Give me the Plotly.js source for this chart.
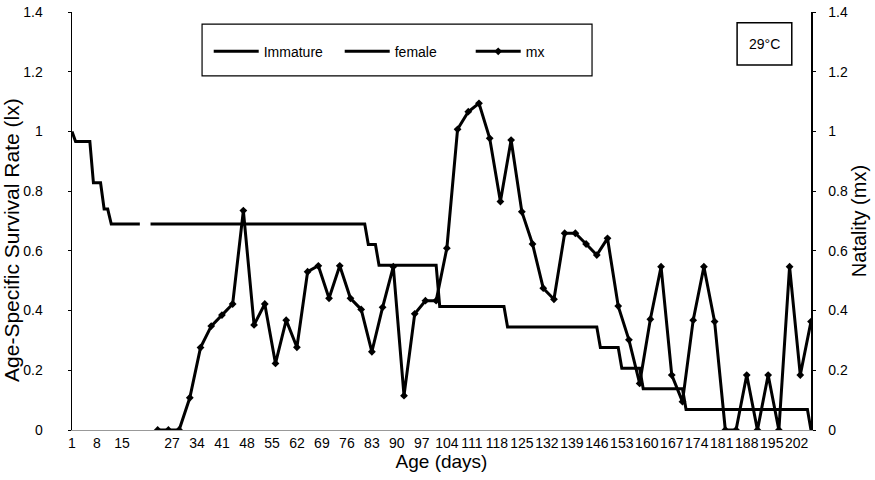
<!DOCTYPE html>
<html><head><meta charset="utf-8">
<script src="https://cdn.plot.ly/plotly-3.0.1.min.js"></script>
<style>html,body{margin:0;padding:0;background:#fff}#chart{width:875px;height:480px}</style>
</head><body><div id="chart"></div>
<script>
// Survival (lx) read at the days where the step changes
const immatureDays = [1, 2, 6, 7, 9, 10, 11, 12, 20];
const immatureLx   = [1.0, 0.966, 0.966, 0.828, 0.828, 0.74, 0.74, 0.69, 0.69];
const femaleDays = [21, 81, 82, 84, 85, 101, 102, 120, 121, 146, 147, 152, 153, 158, 159, 170, 171, 205, 206];
const femaleLx   = [0.69, 0.69, 0.621, 0.621, 0.552, 0.552, 0.414, 0.414, 0.345, 0.345, 0.276, 0.276, 0.207, 0.207, 0.138, 0.138, 0.069, 0.069, 0];
// Natality (mx)
const mxDays = [23, 26, 29, 32, 35, 38, 41, 44, 47, 50, 53, 56, 59, 62, 65, 68, 71, 74, 77, 80,
  83, 86, 89, 92, 95, 98, 101, 104, 107, 110, 113, 116, 119, 122, 125, 128, 131, 134, 137, 140,
  143, 146, 149, 152, 155, 158, 161, 164, 167, 170, 173, 176, 179, 182, 185, 188, 191, 194, 197, 200, 203, 206];
const mxValues = [0, 0, 0, 0.108, 0.276, 0.348, 0.385, 0.422, 0.735, 0.352,
  0.422, 0.223, 0.368, 0.277, 0.53, 0.55, 0.441, 0.55, 0.441, 0.404,
  0.262, 0.411, 0.547, 0.115, 0.389, 0.433, 0.433, 0.609, 1.007, 1.066,
  1.094, 0.977, 0.765, 0.971, 0.731, 0.623, 0.475, 0.438, 0.659, 0.659,
  0.623, 0.586, 0.642, 0.415, 0.302, 0.156, 0.371, 0.547, 0.184, 0.095,
  0.368, 0.547, 0.363, 0, 0, 0.184, 0, 0.184, 0, 0.547, 0.184, 0.363];

// Category axis: days 1-20, two blank rows, then days 21-206
const categories = [];
for (let d = 1; d <= 20; d++) categories.push(String(d));
categories.push('', '');
for (let d = 21; d <= 206; d++) categories.push(String(d));
const pos = d => categories.indexOf(String(d));

const tickVals = [], tickText = [];
for (let i = 0; i < categories.length; i += 7) { tickVals.push(i); tickText.push(categories[i]); }

const FONT = 'Liberation Sans, Arial, sans-serif';
const traces = [
  {x: immatureDays.map(pos), y: immatureLx, name: 'Immature', type: 'scatter', mode: 'lines',
   line: {color: '#000', width: 3}, yaxis: 'y'},
  {x: femaleDays.map(pos), y: femaleLx, name: 'female', type: 'scatter', mode: 'lines',
   line: {color: '#000', width: 3}, yaxis: 'y'},
  {x: mxDays.map(pos), y: mxValues, name: 'mx', type: 'scatter', mode: 'lines+markers',
   line: {color: '#000', width: 3}, marker: {symbol: 'diamond', size: 6, color: '#000'}, yaxis: 'y2'}
];

const layout = {
  width: 875, height: 480,
  margin: {l: 72, r: 64, t: 12, b: 50},
  paper_bgcolor: '#fff', plot_bgcolor: '#fff',
  font: {family: FONT, color: '#000', size: 14},
  showlegend: true,
  legend: {orientation: 'h', x: 0.185, y: 0.905, xanchor: 'left', yanchor: 'middle',
    bgcolor: 'rgba(0,0,0,0)', borderwidth: 0, entrywidth: 71, entrywidthmode: 'pixels',
    itemwidth: 45, font: {size: 14, family: FONT}},
  xaxis: {range: [0, categories.length - 1], tickmode: 'array', tickvals: tickVals, ticktext: tickText,
    tickangle: 0, showline: true, linecolor: '#999', linewidth: 1, ticks: '', showgrid: false, zeroline: false,
    tickfont: {size: 14}, title: {text: 'Age (days)', font: {size: 19}, standoff: 2}},
  yaxis: {range: [0, 1.4], dtick: 0.2, showline: true, linecolor: '#000', linewidth: 1.5,
    ticks: 'outside', ticklen: 3, tickcolor: '#000', ticklabelstandoff: 22, showgrid: false, zeroline: false,
    tickfont: {size: 14}},
  yaxis2: {range: [0, 1.4], dtick: 0.2, overlaying: 'y', side: 'right', showline: true, linecolor: '#000',
    linewidth: 1.5, ticks: 'outside', ticklen: 3, tickcolor: '#000', ticklabelstandoff: 10, showgrid: false, zeroline: false,
    tickfont: {size: 14}, title: {text: 'Natality (mx)', font: {size: 20}, standoff: 4}},
  shapes: [
    {type: 'rect', xref: 'paper', yref: 'paper', x0: 0.176, x1: 0.7037, y0: 0.847, y1: 0.971,
     line: {color: '#000', width: 1.2}, fillcolor: 'rgba(0,0,0,0)'},
    {type: 'rect', xref: 'paper', yref: 'paper', x0: 0.90, x1: 0.974, y0: 0.873, y1: 0.974,
     line: {color: '#000', width: 1.5}, fillcolor: 'rgba(0,0,0,0)'}
  ],
  annotations: [
    {text: '29°C', xref: 'paper', yref: 'paper', x: 0.937, y: 0.923, showarrow: false,
     font: {size: 14, family: FONT}, xanchor: 'center', yanchor: 'middle'},
    {text: 'Age-Specific Survival Rate (lx)', xref: 'paper', yref: 'paper', x: -0.081, y: 0.455,
     textangle: -90, showarrow: false, font: {size: 21, family: FONT}, xanchor: 'center', yanchor: 'middle'}
  ]
};

Plotly.newPlot('chart', traces, layout, {displayModeBar: false, staticPlot: true});
</script>
</body></html>
